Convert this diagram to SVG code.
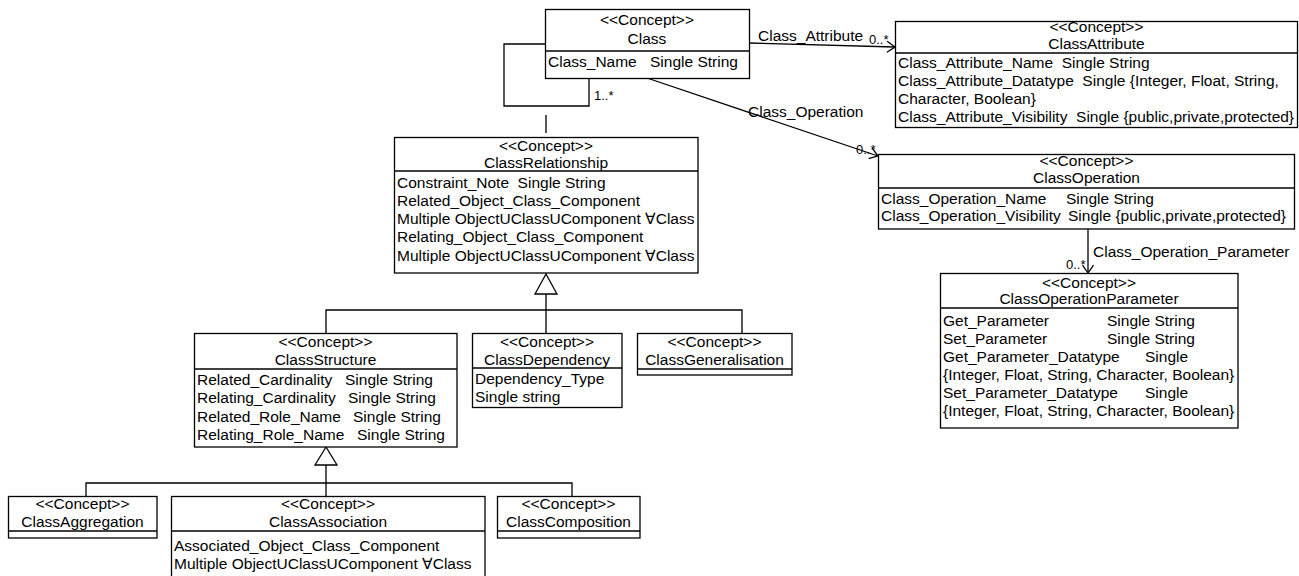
<svg xmlns="http://www.w3.org/2000/svg" width="1299" height="576" viewBox="0 0 1299 576" xml:space="preserve">
<style>
.b{fill:#fff;stroke:#000;stroke-width:1.3}
.d{fill:none;stroke:#000;stroke-width:1.3}
.ln{fill:none;stroke:#000;stroke-width:1.3}
.tri{fill:#fff;stroke:#000;stroke-width:1.3}
text{font-family:"Liberation Sans","DejaVu Sans",Arial,sans-serif;font-size:15.5px;fill:#000;white-space:pre}
.m{text-anchor:middle}
.k{font-size:13px}
</style>
<defs>
<marker id="open" viewBox="0 0 10 12" refX="9" refY="6" markerWidth="10" markerHeight="12" markerUnits="userSpaceOnUse" orient="auto">
<path d="M1,0.5 L9,6 L1,11.5" fill="none" stroke="#000" stroke-width="1.3"/>
</marker>
</defs>
<rect width="1299" height="576" fill="#fff"/>

<g id="connectors">
<path class="ln" d="M545,44 H504 V106 H589 V78"/>
<path class="ln" d="M546,106 V138" stroke-dasharray="0 9 18 20"/>
<text x="594" y="100" class="k">1..*</text>
<path class="ln" d="M749,43 L895,47" marker-end="url(#open)"/>
<text x="758" y="41">Class_Attribute</text>
<text x="869" y="44" class="k">0..*</text>
<path class="ln" d="M647,78 L878,156" marker-end="url(#open)"/>
<text x="748" y="117">Class_Operation</text>
<text x="856" y="154" class="k">0..*</text>
<path class="ln" d="M1088,229 V273" marker-end="url(#open)"/>
<text x="1093" y="257">Class_Operation_Parameter</text>
<text x="1066" y="269" class="k">0..*</text>
<polygon class="tri" points="546,274 535,294 557,294"/>
<path class="ln" d="M546,294 V334 M326,334 V310 H742 V334"/>
<polygon class="tri" points="326,447 315,465 337,465"/>
<path class="ln" d="M326,465 V496 M86,496 V483 H572 V496"/>
</g>

<g id="Class">
<rect class="b" x="545.5" y="9.5" width="204" height="69"/>
<line class="d" x1="545.5" y1="51" x2="749.5" y2="51"/>
<text x="647" y="25" class="m">&lt;&lt;Concept&gt;&gt;</text>
<text x="647" y="43.5" class="m">Class</text>
<text x="548" y="67">Class_Name<tspan x="650">Single String</tspan></text>
</g>

<g id="ClassAttribute">
<rect class="b" x="895.5" y="21.5" width="402" height="106"/>
<line class="d" x1="895.5" y1="53" x2="1297.5" y2="53"/>
<text x="1096.5" y="31.5" class="m">&lt;&lt;Concept&gt;&gt;</text>
<text x="1096.5" y="49" class="m">ClassAttribute</text>
<text x="898" y="67.5">Class_Attribute_Name  Single String</text>
<text x="898" y="85.5">Class_Attribute_Datatype  Single {Integer, Float, String,</text>
<text x="898" y="103.5">Character, Boolean}</text>
<text x="898" y="121.5">Class_Attribute_Visibility  Single {public,private,protected}</text>
</g>

<g id="ClassOperation">
<rect class="b" x="878.5" y="154.5" width="416" height="74.5"/>
<line class="d" x1="878.5" y1="188" x2="1294.5" y2="188"/>
<text x="1086.5" y="165.5" class="m">&lt;&lt;Concept&gt;&gt;</text>
<text x="1086.5" y="182.5" class="m">ClassOperation</text>
<text x="881" y="203.5">Class_Operation_Name<tspan x="1066">Single String</tspan></text>
<text x="881" y="221">Class_Operation_Visibility<tspan x="1068">Single {public,private,protected}</tspan></text>
</g>

<g id="ClassOperationParameter">
<rect class="b" x="940.5" y="273.5" width="297.5" height="154.5"/>
<line class="d" x1="940.5" y1="308" x2="1238" y2="308"/>
<text x="1089" y="287.5" class="m">&lt;&lt;Concept&gt;&gt;</text>
<text x="1089" y="303.5" class="m">ClassOperationParameter</text>
<text x="943" y="325.5">Get_Parameter<tspan x="1107">Single String</tspan></text>
<text x="943" y="343.5">Set_Parameter<tspan x="1107">Single String</tspan></text>
<text x="943" y="361.5">Get_Parameter_Datatype<tspan x="1145">Single</tspan></text>
<text x="943" y="379.5">{Integer, Float, String, Character, Boolean}</text>
<text x="943" y="397.5">Set_Parameter_Datatype<tspan x="1145">Single</tspan></text>
<text x="943" y="416">{Integer, Float, String, Character, Boolean}</text>
</g>

<g id="ClassRelationship">
<rect class="b" x="394.5" y="137.5" width="303.5" height="135.5"/>
<line class="d" x1="394.5" y1="171" x2="698" y2="171"/>
<text x="546" y="150.5" class="m">&lt;&lt;Concept&gt;&gt;</text>
<text x="546" y="167.5" class="m">ClassRelationship</text>
<text x="397" y="187.5">Constraint_Note  Single String</text>
<text x="397" y="205.5">Related_Object_Class_Component</text>
<text x="397" y="223.5">Multiple ObjectUClassUComponent ∀Class</text>
<text x="397" y="242">Relating_Object_Class_Component</text>
<text x="397" y="260.5">Multiple ObjectUClassUComponent ∀Class</text>
</g>

<g id="ClassStructure">
<rect class="b" x="194.5" y="333.5" width="262.5" height="113.5"/>
<line class="d" x1="194.5" y1="369" x2="457" y2="369"/>
<text x="325.5" y="346.5" class="m">&lt;&lt;Concept&gt;&gt;</text>
<text x="325.5" y="365" class="m">ClassStructure</text>
<text x="197" y="384.5">Related_Cardinality<tspan x="345">Single String</tspan></text>
<text x="197" y="403">Relating_Cardinality<tspan x="348">Single String</tspan></text>
<text x="197" y="421.5">Related_Role_Name<tspan x="353">Single String</tspan></text>
<text x="197" y="440">Relating_Role_Name<tspan x="357">Single String</tspan></text>
</g>

<g id="ClassDependency">
<rect class="b" x="472.5" y="333.5" width="149.5" height="74"/>
<line class="d" x1="472.5" y1="368" x2="622" y2="368"/>
<text x="547" y="347" class="m">&lt;&lt;Concept&gt;&gt;</text>
<text x="547" y="365" class="m">ClassDependency</text>
<text x="475" y="384">Dependency_Type</text>
<text x="475" y="402">Single string</text>
</g>

<g id="ClassGeneralisation">
<rect class="b" x="637.5" y="333.5" width="154.5" height="41.5"/>
<line class="d" x1="637.5" y1="369" x2="792" y2="369"/>
<text x="714.5" y="347" class="m">&lt;&lt;Concept&gt;&gt;</text>
<text x="714.5" y="365" class="m">ClassGeneralisation</text>
</g>

<g id="ClassAggregation">
<rect class="b" x="8.5" y="496.5" width="148.5" height="41.5"/>
<line class="d" x1="8.5" y1="531" x2="157" y2="531"/>
<text x="82.5" y="508.5" class="m">&lt;&lt;Concept&gt;&gt;</text>
<text x="82.5" y="527" class="m">ClassAggregation</text>
</g>

<g id="ClassAssociation">
<rect class="b" x="171.5" y="496.5" width="313.5" height="95"/>
<line class="d" x1="171.5" y1="531" x2="485" y2="531"/>
<text x="328" y="508.5" class="m">&lt;&lt;Concept&gt;&gt;</text>
<text x="328" y="527" class="m">ClassAssociation</text>
<text x="174" y="550.5">Associated_Object_Class_Component</text>
<text x="174" y="568.5">Multiple ObjectUClassUComponent ∀Class</text>
</g>

<g id="ClassComposition">
<rect class="b" x="497.5" y="496.5" width="142.5" height="41.5"/>
<line class="d" x1="497.5" y1="531" x2="640" y2="531"/>
<text x="568.5" y="508.5" class="m">&lt;&lt;Concept&gt;&gt;</text>
<text x="568.5" y="527" class="m">ClassComposition</text>
</g>
</svg>
